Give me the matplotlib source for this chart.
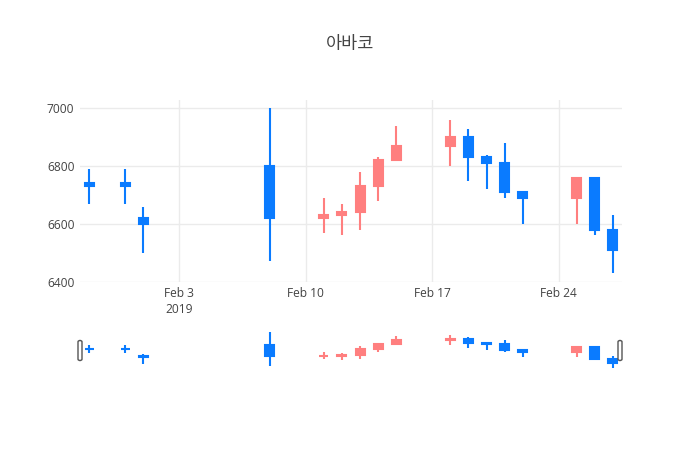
import matplotlib
matplotlib.use("Agg")
import matplotlib.pyplot as plt
import matplotlib.dates as mdates
from matplotlib.patches import FancyBboxPatch
import pandas as pd

title = "아바코"
dates = ["2019-01-29", "2019-01-31", "2019-02-01", "2019-02-08",
         "2019-02-11", "2019-02-12", "2019-02-13", "2019-02-14", "2019-02-15",
         "2019-02-18", "2019-02-19", "2019-02-20", "2019-02-21", "2019-02-22",
         "2019-02-25", "2019-02-26", "2019-02-27"]
open_ = [6740, 6740, 6620, 6800, 6620, 6630, 6640, 6730, 6820,
         6870, 6900, 6830, 6810, 6710, 6690, 6760, 6580]
high = [6790, 6790, 6660, 7000, 6690, 6670, 6780, 6830, 6940,
        6960, 6930, 6840, 6880, 6710, 6760, 6760, 6630]
low = [6670, 6670, 6500, 6470, 6570, 6560, 6580, 6680, 6820,
       6800, 6750, 6720, 6690, 6600, 6600, 6560, 6430]
close = [6730, 6730, 6600, 6620, 6630, 6640, 6730, 6820, 6870,
         6900, 6830, 6810, 6710, 6690, 6760, 6580, 6510]
yticks = [6400, 6600, 6800, 7000]
xtick_dates = ["2019-02-03", "2019-02-10", "2019-02-17", "2019-02-24"]
xtick_labels = ["Feb 3\n2019", "Feb 10", "Feb 17", "Feb 24"]

UP = "#FF7F7F"
DOWN = "#0A7BFF"
TXT = "#444444"
GRID = "#EBEBEB"

x = mdates.date2num(pd.to_datetime(dates))
xt = mdates.date2num(pd.to_datetime(xtick_dates))

fig = plt.figure(figsize=(7, 4.5), dpi=100)
ax = fig.add_axes([80/700, 1-281.7/450, 542/700, 181.7/450])
sl = fig.add_axes([80/700, 1-370/450, 542/700, 39.6/450])

xmin, xmax = x[0] - 0.5, x[-1] + 0.5
ylo, yhi = 6400, 7029


def draw(a, lw, bw):
    for xi, o, h, l, c in zip(x, open_, high, low, close):
        col = UP if c >= o else DOWN
        a.vlines(xi, l, h, color=col, lw=lw, zorder=3)
        a.bar(xi, abs(c - o) if abs(c - o) > 0 else 1, bottom=min(o, c),
              width=bw, color=col, edgecolor=col, linewidth=lw,
              joinstyle="miter", zorder=4)


draw(ax, 1.5, 0.5)
ax.set_xlim(xmin, xmax)
ax.set_ylim(ylo, yhi)
ax.set_xticks(xt)
ax.set_xticklabels(xtick_labels)
ax.set_yticks(yticks)
ax.set_yticklabels([str(v) for v in yticks])
ax.grid(True, color=GRID, lw=1)
ax.set_axisbelow(True)
for s in ax.spines.values():
    s.set_visible(False)
ax.tick_params(length=0, colors=TXT, labelsize=8.64, pad=4)
for t in ax.get_xticklabels() + ax.get_yticklabels():
    t.set_fontfamily(["Open Sans", "DejaVu Sans"])
    t.set_color(TXT)
for t in ax.get_xticklabels():
    t.set_linespacing(1.25)

draw(sl, 1.5, 0.5)
sl.set_xlim(xmin, xmax)
sl.set_ylim(ylo, yhi)
sl.set_xticks([])
sl.set_yticks([])
for s in sl.spines.values():
    s.set_visible(False)

# range slider handles
for hx in (80, 620):
    fig.patches.append(FancyBboxPatch(((hx - 2) / 700, 1 - 360.5 / 450), 4 / 700, 20 / 450,
                                      boxstyle="round,pad=0,rounding_size=0.003",
                                      transform=fig.transFigure, facecolor="white",
                                      edgecolor="#555555", lw=1.0, zorder=10))

fig.text(350/700, 1-44/450, title, ha="center", va="center", fontsize=12.6,
         color=TXT, family=["Noto Sans CJK KR", "DejaVu Sans"])

fig.savefig("out.png", dpi=100, facecolor="white")
